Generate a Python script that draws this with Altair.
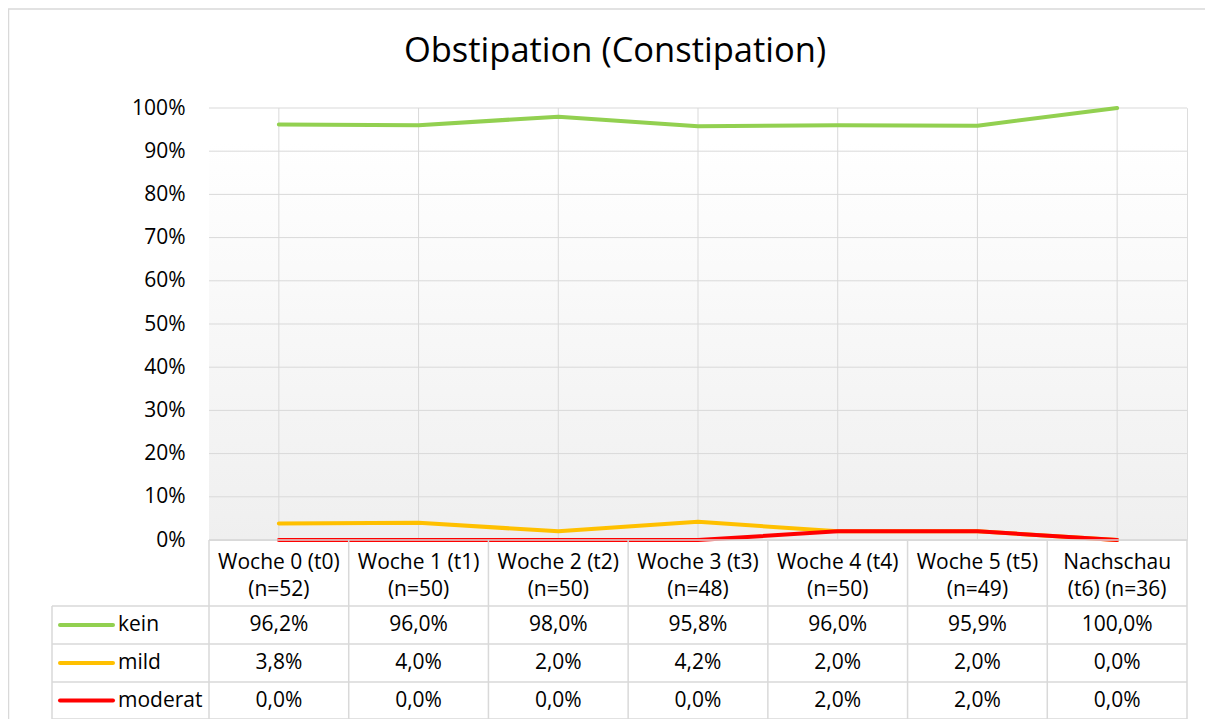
import altair as alt
import pandas as pd

# ---------------- data ----------------
chart_title = "Obstipation (Constipation)"
categories = [
    "Woche 0 (t0)\n(n=52)",
    "Woche 1 (t1)\n(n=50)",
    "Woche 2 (t2)\n(n=50)",
    "Woche 3 (t3)\n(n=48)",
    "Woche 4 (t4)\n(n=50)",
    "Woche 5 (t5)\n(n=49)",
    "Nachschau\n(t6) (n=36)",
]
series_names = ["kein", "mild", "moderat"]
kein = [96.2, 96.0, 98.0, 95.8, 96.0, 95.9, 100.0]
mild = [3.8, 4.0, 2.0, 4.2, 2.0, 2.0, 0.0]
moderat = [0.0, 0.0, 0.0, 0.0, 2.0, 2.0, 0.0]
y_ticks = [0, 10, 20, 30, 40, 50, 60, 70, 80, 90, 100]

series_values = {"kein": kein, "mild": mild, "moderat": moderat}
colors = {"kein": "#92d050", "mild": "#ffc000", "moderat": "#ff0000"}

rows = []
for s in series_names:
    for c, v in zip(categories, series_values[s]):
        rows.append({"cat": c, "series": s, "value": v,
                     "label": f"{v:.1f}".replace(".", ",") + "%"})
df = pd.DataFrame(rows)
cat_df = pd.DataFrame({"cat": categories})
tick_df = pd.DataFrame({"p": [t / 100 for t in y_ticks]})
one = pd.DataFrame({"k": [0]})

# ---------------- layout ----------------
W, H = 978, 432
FONT = "Open Sans"
FS = 21
GRID = "#d9d9d9"
TXT = "#000000"

HEADER_TOP = 432
HEADER_LINE1 = 455
ROW_LINES = [498, 536, 574, 611]
ROW_CENTERS = [517, 555, 592.5]
LEG_LEFT = -157

xscale = alt.Scale(domain=categories, type="band", paddingInner=0, paddingOuter=0)
yscale = alt.Scale(domain=[0, 1])
yaxis = alt.Axis(values=[t / 100 for t in y_ticks], format=".0%",
                 ticks=False, domain=False, grid=False,
                 labelPadding=24, labelFontSize=FS, labelFont=FONT,
                 labelColor=TXT, title=None)


def X(**kw):
    return alt.X("cat:N", scale=xscale, axis=None, **kw)


def Y():
    return alt.Y("p:Q", scale=yscale, axis=yaxis)


layers = []

# plot area background gradient
layers.append(
    alt.Chart(one).mark_rect(
        color=alt.Gradient(
            gradient="linear", x1=0, x2=0, y1=0, y2=1,
            stops=[alt.GradientStop(color="#ffffff", offset=0),
                   alt.GradientStop(color="#ffffff", offset=0.08),
                   alt.GradientStop(color="#efefef", offset=1)],
        )
    ).encode(x=alt.value(0), x2=alt.value(W), y=alt.value(0), y2=alt.value(H))
)

# outer chart border
layers.append(
    alt.Chart(one).mark_rect(fillOpacity=0, stroke=GRID, strokeWidth=1.5).encode(
        x=alt.value(-200.5), x2=alt.value(W + 60), y=alt.value(-99), y2=alt.value(H + 300)
    )
)

# horizontal grid with y axis labels
layers.append(
    alt.Chart(tick_df).mark_rule(color=GRID, strokeWidth=1).encode(y=Y())
)

# vertical grid at category centres
layers.append(
    alt.Chart(cat_df).mark_rule(color=GRID, strokeWidth=1).encode(
        x=X(bandPosition=0.5), y=alt.value(0), y2=alt.value(H)
    )
)

# lines (drawn in order so that 'moderat' is on top)
for s in series_names:
    layers.append(
        alt.Chart(df).transform_filter(alt.datum.series == s)
        .transform_calculate(p="datum.value / 100")
        .mark_line(strokeWidth=4, strokeCap="round", strokeJoin="round",
                   color=colors[s])
        .encode(x=X(bandPosition=0.5), y=Y())
    )

# ---------------- data table ----------------
layers.append(
    alt.Chart(one).mark_rule(color=GRID, strokeWidth=1.5).encode(
        x=alt.value(0), x2=alt.value(W), y=alt.value(HEADER_TOP))
)
for yl in ROW_LINES:
    layers.append(
        alt.Chart(one).mark_rule(color=GRID, strokeWidth=1.5).encode(
            x=alt.value(LEG_LEFT), x2=alt.value(W), y=alt.value(yl))
    )
layers.append(
    alt.Chart(cat_df).mark_rule(color=GRID, strokeWidth=1.5).encode(
        x=X(bandPosition=0), y=alt.value(HEADER_TOP), y2=alt.value(ROW_LINES[-1]))
)
layers.append(
    alt.Chart(one).mark_rule(color=GRID, strokeWidth=1.5).encode(
        x=alt.value(W), y=alt.value(HEADER_TOP), y2=alt.value(ROW_LINES[-1]))
)
layers.append(
    alt.Chart(one).mark_rule(color=GRID, strokeWidth=1.5).encode(
        x=alt.value(LEG_LEFT), y=alt.value(ROW_LINES[0]), y2=alt.value(ROW_LINES[-1]))
)

# header text (two lines)
layers.append(
    alt.Chart(cat_df).mark_text(font=FONT, fontSize=FS, color=TXT, lineBreak="\n",
                                lineHeight=27, baseline="middle", align="center")
    .encode(x=X(bandPosition=0.5), y=alt.value(HEADER_LINE1), text="cat:N")
)

# values + legend keys
for i, s in enumerate(series_names):
    yc = ROW_CENTERS[i]
    layers.append(
        alt.Chart(df).transform_filter(alt.datum.series == s)
        .mark_text(font=FONT, fontSize=FS, color=TXT, baseline="middle", align="center")
        .encode(x=X(bandPosition=0.5), y=alt.value(yc), text="label:N")
    )
    layers.append(
        alt.Chart(pd.DataFrame({"series": [s]})).mark_rule(
            color=colors[s], strokeWidth=4, strokeCap="round")
        .encode(x=alt.value(-149), x2=alt.value(-96), y=alt.value(yc))
    )
    layers.append(
        alt.Chart(pd.DataFrame({"series": [s]})).mark_text(
            font=FONT, fontSize=FS, color=TXT, baseline="middle", align="left")
        .encode(x=alt.value(-91), y=alt.value(yc), text="series:N")
    )

chart = (
    alt.layer(*layers)
    .properties(
        width=W, height=H,
        title=alt.TitleParams(chart_title, font=FONT, fontSize=34.5, fontWeight="normal",
                              color=TXT, anchor="middle", frame="group", dx=-83,
                              offset=0, baseline="alphabetic", dy=88),
        autosize=alt.AutoSizeParams(type="none"),
        padding={"left": 201, "top": 100, "right": 18, "bottom": 179},
    )
    .configure_view(stroke=None)
    .configure(background="white")
)

chart.save("out.html", embed_options={"renderer": "svg", "actions": False})
